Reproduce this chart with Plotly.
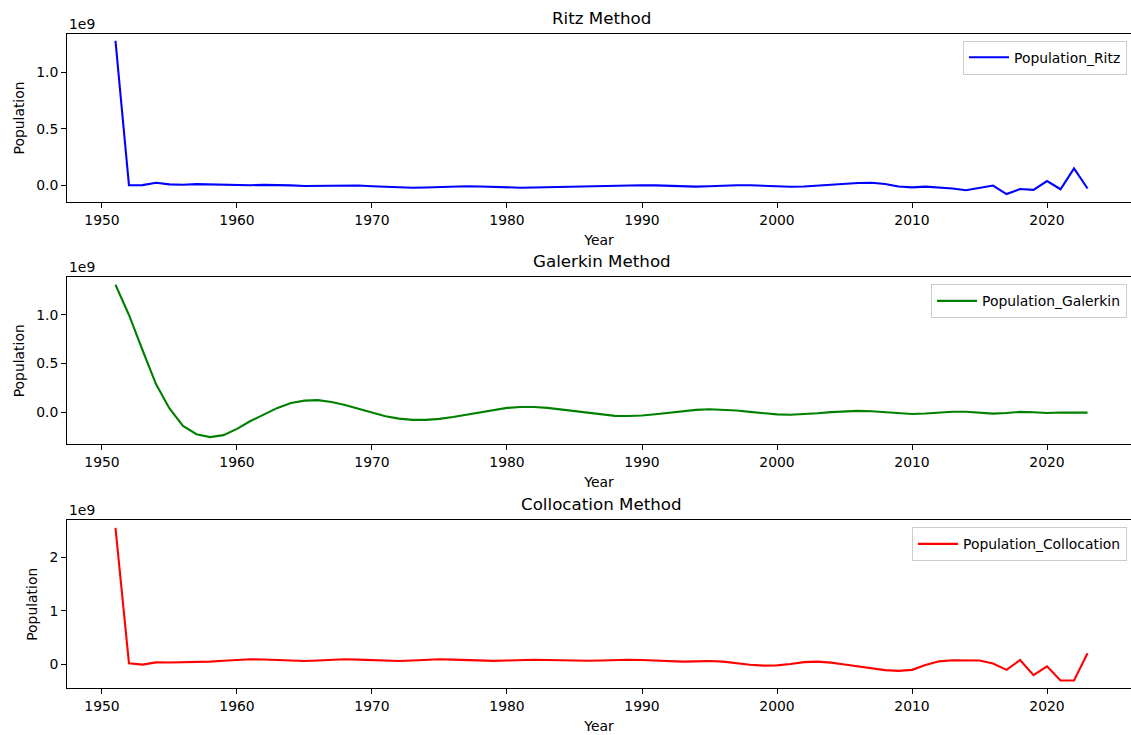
import plotly.graph_objects as go

years = list(range(1951, 2024))

# values in units of 1e9
ritz = [1.276, 0.0, 0.002, 0.022, 0.008, 0.005, 0.01, 0.008, 0.003, 0.0,
        0.001, 0.004, 0.003, -0.001, -0.006, -0.006, -0.003, -0.001, -0.002, -0.008,
        -0.014, -0.02, -0.022, -0.02, -0.015, -0.01, -0.008, -0.01, -0.015, -0.019,
        -0.021, -0.02, -0.017, -0.014, -0.012, -0.012, -0.01, -0.006, -0.002, 0.0,
        -0.001, -0.006, -0.011, -0.012, -0.009, -0.003, 0.001, 0.0, -0.005, -0.01,
        -0.013, -0.011, -0.003, 0.006, 0.013, 0.02, 0.022, 0.012, -0.01, -0.018,
        -0.012, -0.02, -0.028, -0.044, -0.02, -0.002, -0.077, -0.033, -0.04, 0.038,
        -0.035, 0.15, -0.028]

galerkin = [1.31, 1.00, 0.64, 0.29, 0.04, -0.14, -0.225, -0.255, -0.235, -0.17,
            -0.09, -0.02, 0.045, 0.095, 0.12, 0.125, 0.105, 0.075, 0.035, -0.005,
            -0.04, -0.065, -0.078, -0.078, -0.068, -0.048, -0.025, 0.0, 0.025, 0.045,
            0.055, 0.055, 0.045, 0.028, 0.01, -0.01, -0.027, -0.037, -0.038, -0.033,
            -0.02, -0.004, 0.012, 0.025, 0.031, 0.028, 0.018, 0.004, -0.01, -0.022,
            -0.025, -0.02, -0.01, 0.002, 0.011, 0.014, 0.01, 0.0, -0.012, -0.017,
            -0.012, -0.002, 0.006, 0.005, -0.006, -0.014, -0.008, 0.004, 0.0, -0.008,
            -0.002, -0.004, -0.004]

collocation = [2.555, 0.013, -0.012, 0.03, 0.028, 0.03, 0.035, 0.045, 0.06, 0.078,
               0.088, 0.085, 0.072, 0.058, 0.055, 0.065, 0.08, 0.088, 0.082, 0.07,
               0.058, 0.057, 0.066, 0.08, 0.088, 0.082, 0.07, 0.058, 0.058, 0.066,
               0.077, 0.081, 0.076, 0.067, 0.06, 0.06, 0.066, 0.076, 0.081, 0.075,
               0.062, 0.046, 0.044, 0.05, 0.056, 0.045, 0.012, -0.015, -0.03, -0.025,
               0.0, 0.035, 0.045, 0.025, -0.01, -0.045, -0.07, -0.115, -0.13, -0.11,
               -0.02, 0.05, 0.07, 0.072, 0.065, 0.01, -0.11, 0.075, -0.21, -0.045,
               -0.31, -0.31, 0.2]

titles = ["Ritz Method", "Galerkin Method", "Collocation Method"]
names = ["Population_Ritz", "Population_Galerkin", "Population_Collocation"]
colors = ["#0000ff", "#008000", "#ff0000"]
xticks = [1950, 1960, 1970, 1980, 1990, 2000, 2010, 2020]
yticks = [[0, 0.5, 1.0], [0, 0.5, 1.0], [0, 1, 2]]
yticklabels = [["0.0", "0.5", "1.0"], ["0.0", "0.5", "1.0"], ["0", "1", "2"]]

W, H = 1131, 735
FONT = "DejaVu Sans"
FS = 13.9


def fx(px):
    return px / W


def fy(py):
    return 1 - py / H


# axes pixel boxes (top, bottom) and y ranges
boxes = [(33.7, 202.3), (277.3, 444.3), (520.3, 688.3)]
yranges = [[-0.150, 1.338], [-0.329, 1.387], [-0.456, 2.696]]
xrange_ = [1947.41, 2026.22]
left_px = 67

series = [ritz, galerkin, collocation]

fig = go.Figure()
annotations = []
layout = dict(
    width=W, height=H,
    margin=dict(l=0, r=0, t=0, b=0),
    paper_bgcolor="white", plot_bgcolor="white",
    font=dict(family=FONT, size=FS, color="black"),
    showlegend=True,
)

for i in range(3):
    sfx = "" if i == 0 else str(i + 1)
    lg = "legend" if i == 0 else f"legend{i + 1}"
    fig.add_trace(go.Scatter(
        x=years, y=series[i], mode="lines", name=names[i],
        line=dict(color=colors[i], width=2.1),
        xaxis="x" + sfx, yaxis="y" + sfx, legend=lg,
    ))
    top, bot = boxes[i]
    common = dict(
        showline=True, linecolor="black", linewidth=1,
        ticks="outside", ticklen=5, tickwidth=1, tickcolor="black",
        showgrid=False, zeroline=False,
        tickfont=dict(family=FONT, size=FS, color="black"),
    )
    layout["xaxis" + sfx] = dict(
        common, domain=[fx(left_px), 1.0], range=xrange_,
        anchor="y" + sfx, mirror=True,
        tickvals=xticks, ticktext=[str(t) for t in xticks],
        title=dict(text="Year", standoff=8, font=dict(family=FONT, size=FS, color="black")),
    )
    layout["yaxis" + sfx] = dict(
        common, domain=[fy(bot), fy(top)], range=yranges[i],
        anchor="x" + sfx,
        tickvals=yticks[i], ticktext=yticklabels[i],
        title=dict(text="Population", standoff=8, font=dict(family=FONT, size=FS, color="black")),
    )
    layout[lg] = dict(
        x=fx(1127), xanchor="right", y=fy(top + 7), yanchor="top",
        bgcolor="rgba(255,255,255,0.8)", bordercolor="#cccccc", borderwidth=1,
        itemwidth=40,
        font=dict(family=FONT, size=FS, color="black"),
    )
    annotations.append(dict(
        text=titles[i], xref="paper", yref="paper",
        x=fx((67 + 1136) / 2), y=fy(top), xanchor="center", yanchor="bottom",
        yshift=4, showarrow=False, font=dict(family=FONT, size=16.7, color="black"),
    ))
    annotations.append(dict(
        text="1e9", xref="paper", yref="paper",
        x=fx(67), y=fy(top), xanchor="left", yanchor="bottom",
        yshift=0, showarrow=False, font=dict(family=FONT, size=FS, color="black"),
    ))

layout["annotations"] = annotations
fig.update_layout(**layout)

fig.write_html("out.html", config={"displayModeBar": False},
               post_script="document.body.style.margin='0';")
